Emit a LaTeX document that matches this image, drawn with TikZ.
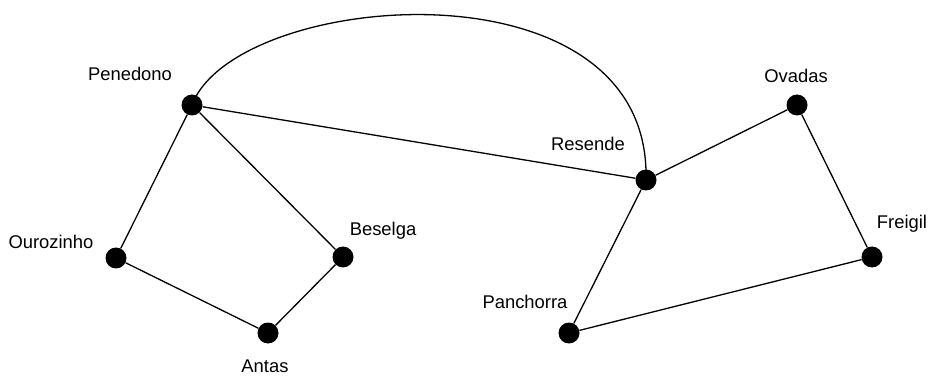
\documentclass[tikz,border=0pt]{standalone}
\usepackage{fontspec}
\setmainfont{Liberation Sans}
\begin{document}
\begin{tikzpicture}[x=1pt,y=-1pt,
  vtx/.style={circle,fill=black,inner sep=0pt,minimum size=21pt},
  lbl/.style={inner sep=0pt,font=\fontsize{18.4}{20}\selectfont},
  edge/.style={line width=1.3pt}]
\useasboundingbox (0,0) rectangle (930,377);
\node[vtx] (pen) at (192,105) {};
\node[vtx] (our) at (116,258) {};
\node[vtx] (ant) at (268,333) {};
\node[vtx] (bes) at (343,257) {};
\node[vtx] (res) at (646,180) {};
\node[vtx] (ova) at (797,105) {};
\node[vtx] (fre) at (872,257) {};
\node[vtx] (pan) at (569,333) {};
\node[lbl] (lpen) at (130,74) {Penedono};
\node[lbl] (lour) at (51,242) {Ourozinho};
\node[lbl] (lant) at (265,366) {Antas};
\node[lbl] (lbes) at (383,231) {Beselga};
\node[lbl] (lres) at (588,144) {Resende};
\node[lbl] (lova) at (796,76) {Ovadas};
\node[lbl] (lfre) at (902,224) {Freigil};
\node[lbl] (lpan) at (525,302) {Panchorra};
\draw[edge] (pen) -- (our);
\draw[edge] (pen) -- (bes);
\draw[edge] (pen) -- (res);
\draw[edge] (our) -- (ant);
\draw[edge] (ant) -- (bes);
\draw[edge] (res) -- (ova);
\draw[edge] (res) -- (pan);
\draw[edge] (ova) -- (fre);
\draw[edge] (fre) -- (pan);
\draw[edge] (pen.center) .. controls (235,-10) and (652,-45) .. (res.center);
\end{tikzpicture}
\end{document}
